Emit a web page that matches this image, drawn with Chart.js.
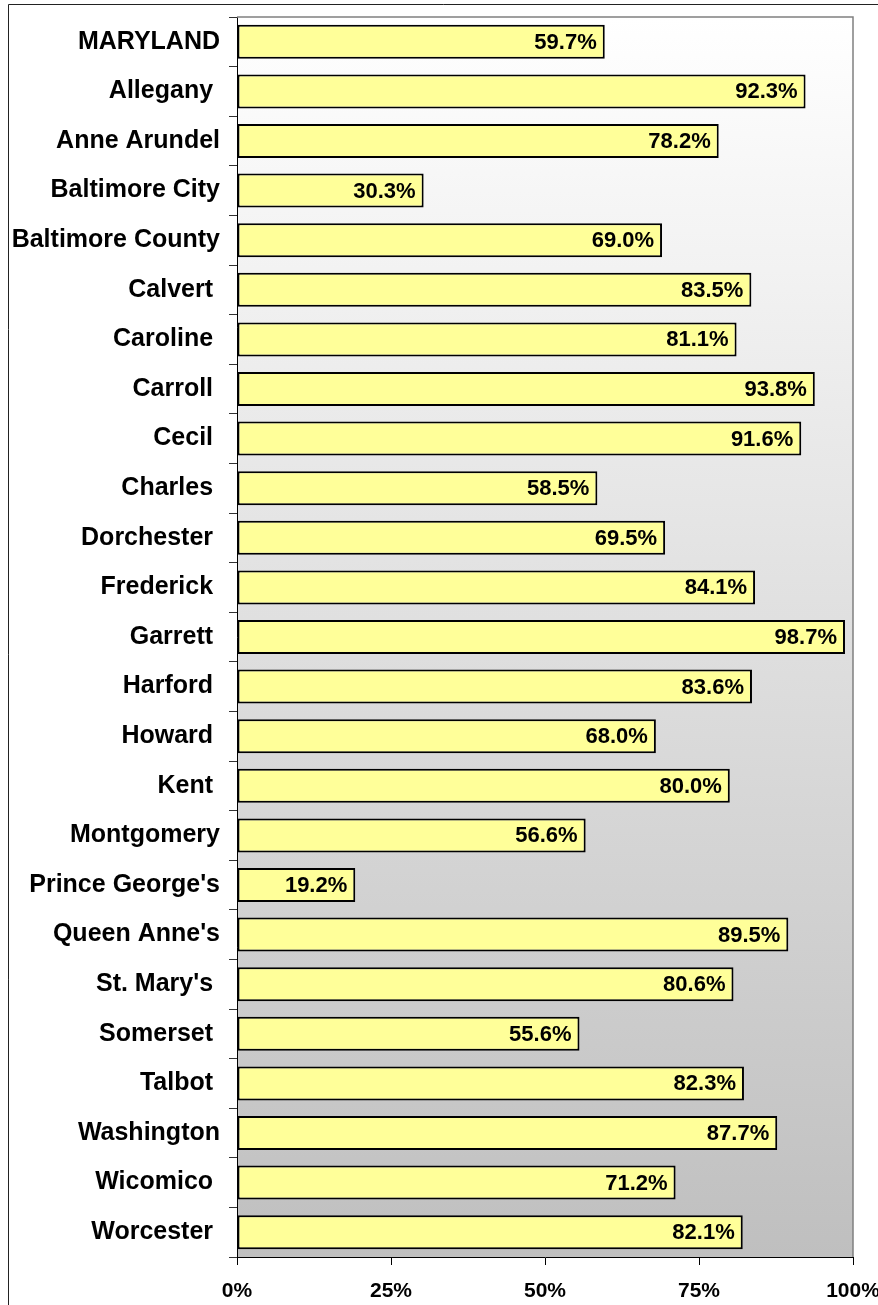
<!DOCTYPE html>
<html>
<head>
<meta charset="utf-8">
<script src="https://cdn.jsdelivr.net/npm/chart.js@4/dist/chart.umd.min.js"></script>
<style>
  html, body { margin: 0; padding: 0; background: #fff; }
  #wrap { width: 878px; height: 1305px; }
</style>
</head>
<body>
<div id="wrap"><canvas id="c" width="878" height="1305"></canvas></div>
<script>
// Jurisdictions (trailing spaces keep the label spacing of the original layout)
const categories = [
  'MARYLAND', 'Allegany ', 'Anne Arundel', 'Baltimore City', 'Baltimore County',
  'Calvert ', 'Caroline ', 'Carroll ', 'Cecil ', 'Charles ', 'Dorchester ',
  'Frederick ', 'Garrett ', 'Harford ', 'Howard ', 'Kent ', 'Montgomery',
  "Prince George's", "Queen Anne's", "St. Mary's ", 'Somerset ', 'Talbot ',
  'Washington', 'Wicomico ', 'Worcester '
];

// Percent values per jurisdiction
const percentValues = [
  59.7, 92.3, 78.2, 30.3, 69.0,
  83.5, 81.1, 93.8, 91.6, 58.5, 69.5,
  84.1, 98.7, 83.6, 68.0, 80.0, 56.6,
  19.2, 89.5, 80.6, 55.6, 82.3,
  87.7, 71.2, 82.1
];

// X axis tick values
const xTicks = [0, 25, 50, 75, 100];

const FONT = '"Liberation Sans", Arial, Helvetica, sans-serif';

// Page frame, plot background gradient and plot border
const framePlugin = {
  id: 'frame',
  beforeDraw(chart) {
    const { ctx, chartArea: a } = chart;
    ctx.save();
    ctx.fillStyle = '#ffffff';
    ctx.fillRect(0, 0, chart.width, chart.height);
    const g = ctx.createLinearGradient(0, a.top, 0, a.bottom);
    g.addColorStop(0, '#ffffff');
    g.addColorStop(1, '#bfbfbf');
    ctx.fillStyle = g;
    ctx.fillRect(a.left, a.top, a.right - a.left, a.bottom - a.top);
    // outer frame
    ctx.strokeStyle = '#222222';
    ctx.lineWidth = 1;
    ctx.beginPath();
    ctx.moveTo(8.5, chart.height);
    ctx.lineTo(8.5, 4.5);
    ctx.lineTo(chart.width, 4.5);
    ctx.stroke();
    ctx.restore();
  },
  afterDraw(chart) {
    const { ctx, chartArea: a } = chart;
    ctx.save();
    ctx.strokeStyle = '#808080';
    ctx.lineWidth = 1.5;
    ctx.beginPath();
    ctx.moveTo(a.left, a.top);
    ctx.lineTo(a.right, a.top);
    ctx.lineTo(a.right, a.bottom);
    ctx.stroke();
    ctx.restore();
  }
};

// Value labels at the inner end of each bar
const valueLabelPlugin = {
  id: 'valueLabels',
  afterDatasetsDraw(chart) {
    const { ctx } = chart;
    const meta = chart.getDatasetMeta(0);
    ctx.save();
    ctx.font = 'bold 22px ' + FONT;
    ctx.fillStyle = '#000000';
    ctx.textAlign = 'right';
    ctx.textBaseline = 'middle';
    meta.data.forEach((bar, i) => {
      ctx.fillText(percentValues[i].toFixed(1) + '%', bar.x - 8, bar.y + 1);
    });
    ctx.restore();
  }
};

new Chart(document.getElementById('c'), {
  type: 'bar',
  data: {
    labels: categories,
    datasets: [{
      data: percentValues,
      backgroundColor: '#ffff99',
      borderColor: '#000000',
      borderWidth: 2,
      borderSkipped: false,
      barPercentage: 0.685,
      categoryPercentage: 1
    }]
  },
  options: {
    indexAxis: 'y',
    responsive: false,
    animation: false,
    devicePixelRatio: 1,
    layout: { padding: { left: 0, right: 25, top: 17, bottom: 0 } },
    plugins: { legend: { display: false }, tooltip: { enabled: false } },
    scales: {
      x: {
        type: 'linear',
        min: xTicks[0],
        max: xTicks[xTicks.length - 1],
        afterBuildTicks(scale) { scale.ticks = xTicks.map(v => ({ value: v })); },
        afterFit(scale) { scale.height = 48; scale.paddingLeft = 0; scale.paddingRight = 0; },
        ticks: {
          callback: v => v + '%',
          font: { family: FONT, size: 21, weight: 'bold' },
          color: '#000000',
          padding: 14,
          maxRotation: 0,
          autoSkip: false
        },
        grid: { drawOnChartArea: false, tickLength: 8, color: '#000000' },
        border: { color: '#000000', width: 1 }
      },
      y: {
        type: 'category',
        afterFit(scale) { scale.width = 237; scale.paddingTop = 0; scale.paddingBottom = 0; },
        ticks: {
          font: { family: FONT, size: 25, weight: 'bold' },
          color: '#000000',
          padding: 9,
          autoSkip: false
        },
        grid: { offset: true, drawOnChartArea: false, tickLength: 8, color: '#333333' },
        border: { color: '#000000', width: 1 }
      }
    }
  },
  plugins: [framePlugin, valueLabelPlugin]
});
</script>
</body>
</html>
